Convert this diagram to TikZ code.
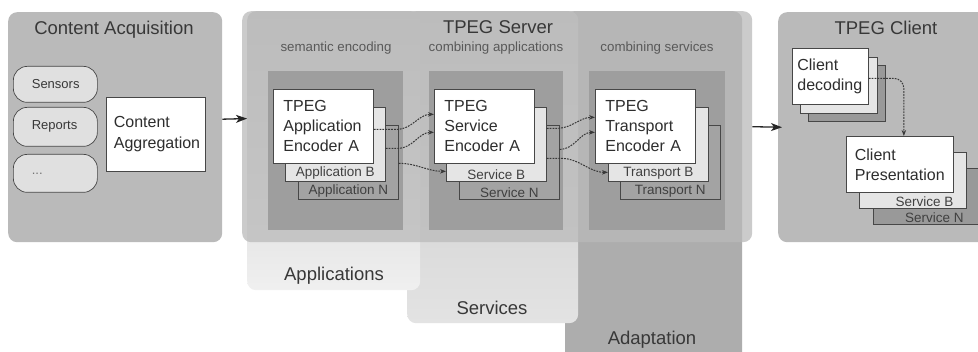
\documentclass[tikz,border=0pt]{standalone}
\usepackage{fontspec}
\setmainfont{Liberation Sans}
\usetikzlibrary{positioning,arrows.meta}

\begin{document}
\begin{tikzpicture}[x=1pt,y=-1pt,
  group/.style={fill=black!27,rounded corners=9pt,anchor=north west,inner sep=0pt},
  column/.style={rounded corners=9pt,anchor=north west,inner sep=0pt},
  panel/.style={fill=black!38,anchor=north west,inner sep=0pt,minimum height=159pt},
  blk/.style={draw=black!72,line width=0.7pt,anchor=north west,inner sep=0pt},
  encA/.style={blk,fill=white,minimum width=100pt,minimum height=74pt,text width=80pt,align=left,font=\fontsize{16}{20}\selectfont,text=black!82},
  encB/.style={blk,fill=black!10,minimum width=100pt,minimum height=74pt},
  encN/.style={blk,fill=black!36,minimum width=100pt,minimum height=74pt},
  pill/.style={draw=black!72,line width=0.7pt,fill=black!12,rounded corners=14pt,anchor=north west,minimum width=84pt,inner sep=0pt,text width=47pt,align=left,font=\fontsize{13}{15}\selectfont,text=black!78},
  title/.style={font=\fontsize{18.5}{22}\selectfont,text=black!78,inner sep=0pt},
  subtitle/.style={font=\fontsize{13.3}{15}\selectfont,text=black!65,inner sep=0pt},
  stacklabel/.style={font=\fontsize{13.5}{15}\selectfont,text=black!75,inner sep=0pt},
  bigarrow/.style={-{Stealth[length=11pt,width=8pt,inset=3pt]},line width=1.3pt,black!85},
  dotarrow/.style={-{Stealth[length=6pt,width=4.5pt]},dash pattern=on 1.8pt off 1.1pt,line width=1pt,black!78}
]
\useasboundingbox (0,0) rectangle (978,352);
\fill[white] (0,0) rectangle (978,352);

% columns behind the server
\node[column,fill=black!32,minimum width=177pt,minimum height=350pt] (adapcol) at (565,11) {};
\node[column,top color=black!23,bottom color=black!11,minimum width=171pt,minimum height=312pt] (servcol) at (407,11) {};
\node[column,top color=black!23,bottom color=black!6,minimum width=173pt,minimum height=279pt] (appcol) at (247,11) {};
\node[title] (appcolT) at (334,276) {Applications};
\node[title] (servcolT) at (492,308) {Services};
\node[title] (adapcolT) at (652,340) {Adaptation};

% groups
\node[group,minimum width=214pt,minimum height=230pt] (acq) at (8,12) {};
\node[group,fill=black!27,fill opacity=.75,minimum width=510pt,minimum height=231pt] (server) at (242,11) {};
\node[group,minimum width=220pt,minimum height=230pt] (client) at (778,12) {};
\node[title] (acqT) at (114,30) {Content Acquisition};
\node[title] (serverT) at (498,27) {TPEG Server};
\node[title] (clientT) at (886,28) {TPEG Client};

% content acquisition
\node[pill,minimum height=36pt] (sensors) at (13,66) {Sensors};
\node[pill,minimum height=39pt] (reports) at (13,107) {Reports};
\node[pill,minimum height=38pt,text=black!55] (more) at (13,154) {...};
\node[blk,fill=white,minimum width=99pt,minimum height=74pt,text width=84pt,align=left,font=\fontsize{16}{21}\selectfont,text=black!82] (agg) at (106,97) {Content\\Aggregation};

% server panels
\node[subtitle] (semT) at (336,48) {semantic encoding};
\node[subtitle] (combappT) at (496,48) {combining applications};
\node[subtitle] (combservT) at (657,48) {combining services};
\node[panel,minimum width=135pt] (pnl1) at (268,71) {};
\node[panel,minimum width=134pt] (pnl2) at (429,71) {};
\node[panel,minimum width=136pt] (pnl3) at (589,71) {};

% semantic encoding
\node[encN] (appN) at (298,125) {};
\node[encB] (appB) at (285,107) {};
\node[encA] (appA) at (273,89) {TPEG\\Application\\Encoder A};
\node[stacklabel,above=2pt of appB.south] (appBT) {Application B};
\node[stacklabel,above=2pt of appN.south] (appNT) {Application N};

% combining applications
\node[encN] (servN) at (459,125) {};
\node[encB] (servB) at (446,107) {};
\node[encA] (servA) at (434,89) {TPEG\\Service\\Encoder A};
\node[stacklabel,above=2pt of servB.south] (servBT) {Service B};
\node[stacklabel,above=2pt of servN.south] (servNT) {Service N};

% combining services
\node[encN] (transN) at (620,125) {};
\node[encB] (transB) at (608,107) {};
\node[encA] (transA) at (595,89) {TPEG\\Transport\\Encoder A};
\node[stacklabel,above=2pt of transB.south] (transBT) {Transport B};
\node[stacklabel,above=2pt of transN.south] (transNT) {Transport N};

% client
\node[blk,fill=black!40,minimum width=77pt,minimum height=56pt] (decN) at (808,65) {};
\node[blk,fill=black!10,minimum width=77pt,minimum height=56pt] (decB) at (800,57) {};
\node[blk,fill=white,minimum width=76pt,minimum height=56pt,text width=66pt,align=left,font=\fontsize{16}{20}\selectfont,text=black!82] (decA) at (792,48) {Client\\decoding};
\node[blk,fill=black!40,minimum width=120pt,minimum height=56pt] (presN) at (873,168) {};
\node[blk,fill=black!10,minimum width=107pt,minimum height=56pt] (presB) at (859,152) {};
\node[blk,fill=white,minimum width=107pt,minimum height=56pt,text width=90pt,align=left,font=\fontsize{16}{20}\selectfont,text=black!82] (presA) at (846,136) {Client\\Presentation};
\node[stacklabel,above left=2pt and 13pt of presB.south east] (presBT) {Service B};
\node[stacklabel,anchor=south west] (presNT) at ([xshift=32pt,yshift=2pt]presN.south west) {Service N};

% connectors
\draw[bigarrow,shorten >=-5pt] ([yshift=8pt]acq.east) -- ([yshift=8pt]server.west);
\draw[bigarrow,shorten >=-4pt] (server.east) -- (client.west);

\draw[dotarrow] ([yshift=-3pt]appA.east) -- ++(23,0) to[out=0,in=180] ([yshift=12pt]servA.west);
\draw[dotarrow] ([yshift=-4pt]appB.east) -- ++(12,0) to[out=0,in=180] ([yshift=-6pt]servA.west);
\draw[dotarrow] ([yshift=-1pt]appN.east) to[out=0,in=180] ([yshift=-27pt]servB.west);

\draw[dotarrow] ([yshift=16pt]servB.east) -- ++(10,0) to[out=0,in=180] ([yshift=9pt]transA.west);
\draw[dotarrow] ([yshift=13pt]servN.east) to[out=0,in=180] ([yshift=-6pt]transA.west);
\draw[dotarrow] ([yshift=-14pt]servB.east) -- ++(14,0) to[out=0,in=180] ([yshift=-28pt]transB.west);

\draw[dotarrow,rounded corners=10pt] ([yshift=-2pt]decA.east) -| ([xshift=4pt]presA.north);
\end{tikzpicture}
\end{document}
